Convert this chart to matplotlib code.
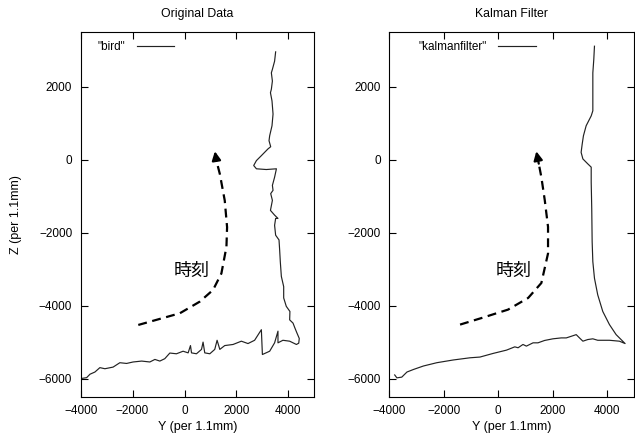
import matplotlib
matplotlib.use("Agg")
import matplotlib.pyplot as plt

plt.rcParams['font.family'] = ['Liberation Sans', 'Noto Sans CJK JP']

# raw bird trajectory (Y, Z)
bird_y = [-4000, -3770, -3640, -3450, -3260, -3065, -2750, -2490, -2230, -1980,
          -1650, -1335, -1140, -950, -760, -565, -310, -55, 140, 230,
          270, 460, 655, 715, 780, 975, 1165, 1255, 1360, 1550,
          1870, 2190, 2445, 2700, 2960, 3000, 3280, 3470, 3600, 3600,
          3790, 4050, 4310, 4400, 4420, 4330, 4250, 4180, 4050, 4060,
          3920, 3820, 3820, 3730, 3690, 3665, 3640, 3510, 3470, 3510,
          3600, 3470, 3310, 3385, 3320, 3410, 3385, 3470, 3540, 3150,
          2770, 2665, 2770, 2960, 3215, 3320, 3255, 3280, 3370, 3410,
          3370, 3310, 3345, 3385, 3345, 3385, 3470, 3510]
bird_z = [-6000, -5975, -5880, -5820, -5700, -5730, -5685, -5565, -5585, -5545,
          -5520, -5545, -5475, -5520, -5455, -5300, -5320, -5250, -5295, -5095,
          -5295, -5320, -5200, -5000, -5295, -5320, -5200, -4950, -5200, -5095,
          -5065, -4975, -5040, -4950, -4660, -5340, -5250, -5020, -4700, -5020,
          -4950, -4975, -5065, -5030, -4900, -4750, -4610, -4480, -4390, -4160,
          -4020, -3790, -3480, -3200, -2800, -2480, -2200, -2070, -1800, -1610,
          -1610, -1520, -1390, -1115, -930, -840, -705, -480, -250, -270,
          -250, -160, -25, 110, 295, 355, 520, 655, 930, 1250,
          1610, 1835, 1930, 2155, 2380, 2475, 2700, 2955]

# Kalman filtered trajectory
kalman_y = [-3800, -3720, -3540, -3350, -3110, -2745, -2255, -1650, -1035, -670,
            -185, 305, 610, 730, 910, 1035, 1280, 1460, 1705, 2010,
            2315, 2500, 2685, 2865, 2985, 3110, 3290, 3475, 3655, 4085,
            4450, 4660, 4330, 4085, 3840, 3655, 3535, 3475, 3450, 3435,
            3415, 3415, 3290, 3110, 3045, 3085, 3130, 3230, 3415, 3475,
            3475, 3475, 3510, 3535]
kalman_z = [-5900, -5980, -5960, -5820, -5750, -5655, -5565, -5490, -5430, -5410,
            -5310, -5220, -5130, -5155, -5065, -5110, -5020, -5020, -4955, -4910,
            -4885, -4885, -4840, -4795, -4885, -4975, -4930, -4910, -4950, -4950,
            -4975, -5040, -4795, -4520, -4160, -3705, -3250, -2795, -2250, -1340,
            -615, -205, -115, 20, 200, 430, 655, 930, 1200, 1340,
            2020, 2380, 2745, 3110]

# dashed "time" arrows
arrow_left_y = [-1780, -1080, -180, 590, 1100, 1420, 1615, 1640, 1550, 1360, 1230]
arrow_left_z = [-4530, -4390, -4210, -3890, -3570, -3120, -2390, -1850, -1120, -390, -30]
arrow_left_tip = (1170, 230)
arrow_right_y = [-1400, -610, 360, 1100, 1585, 1830, 1830, 1710, 1585, 1490]
arrow_right_z = [-4520, -4340, -4110, -3790, -3380, -2570, -1840, -1110, -480, -110]
arrow_right_tip = (1400, 230)

x_ticks = [-4000, -2000, 0, 2000, 4000]
y_ticks = [-6000, -4000, -2000, 0, 2000]

fig = plt.figure(figsize=(6.35, 4.38), dpi=100)
ax1 = fig.add_axes([0.127, 0.094, 0.368, 0.833])
ax2 = fig.add_axes([0.613, 0.094, 0.386, 0.833])

panels = [
    (ax1, bird_y, bird_z, '"bird"', 'Original Data', arrow_left_y, arrow_left_z,
     arrow_left_tip, (270, -3070), 0.07),
    (ax2, kalman_y, kalman_z, '"kalmanfilter"', 'Kalman Filter', arrow_right_y,
     arrow_right_z, arrow_right_tip, (550, -3070), 0.118),
]

for ax, ys, zs, lab, title, ay, az, tip, txt_pos, leg_x in panels:
    ax.plot(ys, zs, color='#222222', lw=0.85, label=lab)
    ax.plot(ay, az, color='black', lw=1.6, linestyle=(0, (4, 2.5)))
    ax.annotate('', xy=tip, xytext=(ay[-1], az[-1]),
                arrowprops=dict(arrowstyle='-|>', color='black', lw=1.6,
                                mutation_scale=13, shrinkA=0, shrinkB=0))
    ax.text(txt_pos[0], txt_pos[1], '時刻', fontsize=13, ha='center', va='center')

    ax.set_xlim(-4000, 5000)
    ax.set_ylim(-6500, 3500)
    ax.set_xticks(x_ticks)
    ax.set_yticks(y_ticks)
    ax.tick_params(direction='in', top=True, right=True, length=5, width=0.8,
                   labelsize=8.5)
    ax.tick_params(axis='x', pad=6)
    ax.tick_params(axis='y', pad=6)
    for s in ax.spines.values():
        s.set_linewidth(0.8)
    ax.set_title(title, fontsize=8.8, pad=11)
    ax.set_xlabel('Y (per 1.1mm)', fontsize=9, labelpad=3)
    ax.legend(loc='upper left', bbox_to_anchor=(leg_x, 0.975), frameon=False,
              markerfirst=False, handlelength=3.2, handletextpad=1.0,
              borderpad=0, borderaxespad=0, fontsize=8.5)

ax1.set_ylabel('Z (per 1.1mm)', fontsize=9, labelpad=12)

fig.savefig('out.png', dpi=100)
